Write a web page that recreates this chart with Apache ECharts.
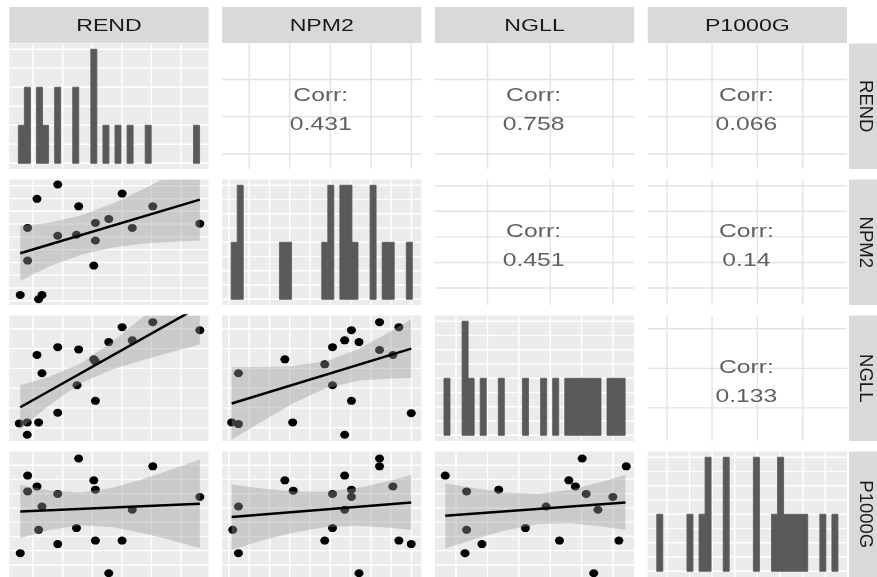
<!DOCTYPE html>
<html><head><meta charset="utf-8">
<script src="https://cdn.jsdelivr.net/npm/echarts@6/dist/echarts.min.js"></script>
<style>html,body{margin:0;padding:0;background:#fff}#c{width:877px;height:577px}</style>
</head><body><div id="c"></div>
<script>
// ---------- DATA (panel units: 0..100 across each variable's scale) ----------
const varNames = ['REND', 'NPM2', 'NGLL', 'P1000G'];
const corrLabels = ['0.431', '0.758', '0.066', '0.451', '0.14', '0.133']; // r1c2 r1c3 r1c4 r2c3 r2c4 r3c4

// grid line positions per variable (all lines / major lines)
const linesREND = [11.9, 26.8, 41.7, 56.5, 71.3, 86.2];
const majorREND = [11.9, 41.7, 71.3];
const linesNPM2 = [3.4, 13.6, 23.8, 33.9, 44.1, 54.3, 64.5, 74.7, 84.8, 95.0];
const majorNPM2 = [13.6, 33.9, 54.3, 74.7, 95.0];
const linesNGLL = [10.6, 26.4, 42.1, 57.9, 73.6, 89.4];
const majorNGLL = [26.4, 57.9, 89.4];
const linesP1000G = [9.6, 21.0, 32.3, 43.7, 55.0, 66.4, 77.8, 89.1];
const majorP1000G = [9.6, 32.3, 55.0, 77.8];

// histogram (30 bins)
const histStart = 4.545, histWidth = 3.0303;
const countsREND   = [1,2,0,2,1,0,2,0,0,2,0,0,3,0,1,0,1,0,1,0,0,1,0,0,0,0,0,0,0,1];
const countsNPM2   = [1,2,0,0,0,0,0,0,1,1,0,0,0,0,0,1,2,0,2,2,1,0,0,2,0,1,1,0,0,1];
const countsNGLL   = [1,0,0,2,1,0,1,0,0,1,0,0,0,1,0,0,1,0,1,0,1,1,1,1,1,1,0,1,1,1];
const countsP1000G = [1,0,0,0,0,1,0,1,2,0,0,2,0,0,0,0,2,0,0,1,2,1,1,1,1,0,0,1,0,1];
const histLinesREND = [0, 0.5, 1, 1.5, 2, 2.5, 3];
const histLinesOther = [0, 0.25, 0.5, 0.75, 1, 1.25, 1.5, 1.75, 2];

// scatter points  [x, y]
const ptsREND_NPM2 = [[5.5,8],[14.7,4.6],[16.4,8],[9.2,35.4],[9.2,61.4],[13.9,84.6],[24.3,96],[24.3,55.2],[33.7,56],[34.8,78.6],[43.2,65.4],[43.2,51.4],[42.4,31.4],[49.9,68.6],[56.6,88.8],[61.7,61.4],[72,78.6],[95.6,64.8]];
const ptsREND_NGLL = [[5.0,14.0],[9.0,14.8],[9.0,5.0],[14.7,14.8],[24.3,22.5],[13.9,68.5],[16.4,54.0],[24.3,74.8],[34.8,73.0],[34.0,44.4],[42.4,65.1],[43.2,32.0],[49.9,78.8],[56.6,90.7],[61.7,80.2],[72.0,94.7],[95.6,88.3],[43.2,63.5]];
const ptsREND_P1000G = [[5.5,19.0],[9.2,80.8],[9.2,68.2],[13.9,72.2],[14.7,37.6],[16.4,56.2],[24.3,66.2],[24.3,26.2],[34.8,94.4],[33.7,39.0],[42.4,77.0],[43.2,69.6],[43.2,29.0],[49.9,3.0],[56.6,29.0],[61.7,53.6],[72.0,88.2],[95.6,63.8]];
const ptsNPM2_NGLL = [[4.8,14.8],[8.2,13.5],[8.2,54.0],[31.5,65.1],[35.4,14.8],[51.5,61.1],[55.4,74.8],[55.4,44.4],[61.5,80.2],[64.9,88.3],[68.7,78.8],[64.9,32.0],[61.5,5.0],[79.0,94.7],[79.0,72.5],[85.7,68.5],[88.7,90.7],[94.9,22.2]];
const ptsNPM2_P1000G = [[5.35,37.6],[8.2,56.2],[8.2,19.0],[31.5,77.0],[35.7,68.8],[51.5,29.0],[55.4,66.2],[55.4,39.0],[61.5,80.8],[61.5,53.6],[64.9,69.6],[64.9,63.8],[68.7,3.0],[79.0,94.4],[79.0,88.2],[85.7,72.2],[88.7,29.0],[94.9,26.2]];
const ptsNGLL_P1000G = [[5.2,80.8],[15.9,68.2],[15.9,37.6],[15.1,19.0],[23.6,26.2],[32.0,69.6],[45.4,39.0],[55.8,56.2],[62.5,29.0],[67.2,77.0],[70.5,72.2],[73.9,94.4],[75.9,66.2],[81.8,53.6],[79.7,3.0],[89.3,63.8],[92.3,29.0],[96.0,88.2]];

// fitted lines [x, y] and confidence bands [x, lower, upper]
const fitREND_NPM2 = [[5.5,41.2],[95.6,84]];
const bandREND_NPM2 = [[5.5,19.4,63.0],[20,30.6,65.6],[36,40.0,71.4],[52,45.8,80.8],[68,49.0,92.8],[84,50.6,106.4],[95.6,51.4,116.6]];
const fitREND_NGLL = [[5.5,26.9],[95.6,107.3]];
const bandREND_NGLL = [[5.5,9.4,44.4],[20,28.5,51.1],[36,46.2,62.0],[52,57.2,79.4],[68,65.0,100.2],[84,72.0,121.8],[95.6,76.9,137.7]];
const fitREND_P1000G = [[5.5,52.2],[95.6,58.4]];
const bandREND_P1000G = [[5.5,30.9,73.5],[20,37.4,69.0],[36,41.2,67.4],[52,39.6,71.2],[68,34.6,78.4],[84,28.1,87.1],[95.6,23.1,93.7]];
const fitNPM2_NGLL = [[4.8,29.9],[94.9,73.6]];
const bandNPM2_NGLL = [[4.8,0.9,58.9],[20,15.6,59.0],[36,30.2,59.8],[52,42.1,63.5],[68,48.0,73.0],[84,49.8,86.8],[94.9,50.1,97.1]];
const fitNPM2_P1000G = [[4.8,47.8],[94.9,59.4]];
const bandNPM2_P1000G = [[4.8,21.8,73.8],[20,29.0,70.6],[36,35.5,68.1],[52,39.8,68.0],[68,40.9,70.9],[84,39.3,76.7],[94.9,37.4,81.4]];
const fitNGLL_P1000G = [[5.2,48.8],[95.6,59.4]];
const bandNGLL_P1000G = [[5.2,22.8,74.8],[20,30.3,70.7],[36,37.5,67.3],[52,42.2,66.4],[68,42.9,69.5],[84,40.2,75.8],[95.6,37.4,81.4]];

// ---------- LAYOUT / STYLE ----------
const COL_LEFT = [9.3, 222.1, 434.9, 647.7], COL_W = 199.3;
const ROW_TOP = [43.5, 179.5, 315.5, 451.5], ROW_H = 125.5;
const STRIP_TOP = 7, STRIP_H = 36;
const FONT = '"Liberation Sans", Arial, sans-serif';

const allLines = [linesREND, linesNPM2, linesNGLL, linesP1000G];
const majLines = [majorREND, majorNPM2, majorNGLL, majorP1000G];
const counts = [countsREND, countsNPM2, countsNGLL, countsP1000G];
const lower = {
  '1_0': [ptsREND_NPM2, fitREND_NPM2, bandREND_NPM2],
  '2_0': [ptsREND_NGLL, fitREND_NGLL, bandREND_NGLL],
  '3_0': [ptsREND_P1000G, fitREND_P1000G, bandREND_P1000G],
  '2_1': [ptsNPM2_NGLL, fitNPM2_NGLL, bandNPM2_NGLL],
  '3_1': [ptsNPM2_P1000G, fitNPM2_P1000G, bandNPM2_P1000G],
  '3_2': [ptsNGLL_P1000G, fitNGLL_P1000G, bandNGLL_P1000G]
};
const upperOrder = ['0_1', '0_2', '0_3', '1_2', '1_3', '2_3'];

const grids = [], xAxes = [], yAxes = [], series = [], graphics = [];

function lineSeries(idx, xl, yl, yMin, yMax, color, width) {
  const data = xl.map(v => [v, 0]).concat(yl.map(v => [v, 1]));
  return {
    type: 'custom', xAxisIndex: idx, yAxisIndex: idx, silent: true, z: 1,
    data: data,
    renderItem: function (params, api) {
      const v = api.value(0), k = api.value(1);
      let p1, p2;
      if (k === 0) { p1 = api.coord([v, yMin]); p2 = api.coord([v, yMax]); }
      else { p1 = api.coord([0, v]); p2 = api.coord([100, v]); }
      return { type: 'line', shape: { x1: p1[0], y1: p1[1], x2: p2[0], y2: p2[1] },
        style: { stroke: color, lineWidth: width } };
    }
  };
}

for (let r = 0; r < 4; r++) {
  for (let c = 0; c < 4; c++) {
    const idx = r * 4 + c;
    const isDiag = r === c, isLower = r > c;
    grids.push({ left: COL_LEFT[c], top: ROW_TOP[r], width: COL_W, height: ROW_H,
      show: true, backgroundColor: (r >= c) ? '#EBEBEB' : '#FFFFFF', borderWidth: 0 });
    let yMin = 0, yMax = 100;
    if (isDiag) { if (r === 0) { yMin = -0.15; yMax = 3.15; } else { yMin = -0.1; yMax = 2.1; } }
    xAxes.push({ type: 'value', gridIndex: idx, min: 0, max: 100, show: false });
    yAxes.push({ type: 'value', gridIndex: idx, min: yMin, max: yMax, show: false });

    if (isDiag) {
      series.push(lineSeries(idx, allLines[c], r === 0 ? histLinesREND : histLinesOther, yMin, yMax, '#FFFFFF', 1.4));
      const bins = [];
      counts[c].forEach((n, k) => { if (n > 0) bins.push([histStart + k * histWidth, histStart + (k + 1) * histWidth, n]); });
      series.push({
        type: 'custom', xAxisIndex: idx, yAxisIndex: idx, silent: true, z: 2, data: bins,
        encode: { x: [0, 1], y: 2 },
        renderItem: function (params, api) {
          const a = api.coord([api.value(0), 0]);
          const b = api.coord([api.value(1), api.value(2)]);
          return { type: 'rect', shape: { x: a[0], y: b[1], width: b[0] - a[0], height: a[1] - b[1] },
            style: { fill: '#595959', stroke: '#595959', lineWidth: 0.8 } };
        }
      });
    } else if (isLower) {
      const [pts, fit, band] = lower[r + '_' + c];
      series.push(lineSeries(idx, allLines[c], allLines[r], 0, 100, '#FFFFFF', 1.4));
      series.push({ type: 'scatter', xAxisIndex: idx, yAxisIndex: idx, silent: true, z: 2,
        data: pts, symbolSize: [9, 8], itemStyle: { color: '#000000', opacity: 1 } });
      series.push({
        type: 'custom', xAxisIndex: idx, yAxisIndex: idx, silent: true, z: 3, clip: true,
        data: band, encode: { x: 0, y: [1, 2] },
        renderItem: function (params, api) {
          if (params.dataIndex !== 0) return null;
          const pts2 = band.map(b => api.coord([b[0], b[2]]))
            .concat(band.slice().reverse().map(b => api.coord([b[0], b[1]])));
          const cs = params.coordSys;
          return { type: 'polygon', shape: { points: pts2 },
            style: { fill: 'rgba(153,153,153,0.4)' },
            clipPath: { type: 'rect', shape: { x: cs.x, y: cs.y, width: cs.width, height: cs.height } } };
        }
      });
      series.push({ type: 'line', xAxisIndex: idx, yAxisIndex: idx, silent: true, z: 4, clip: true,
        data: fit, showSymbol: false, symbol: 'none', lineStyle: { color: '#000000', width: 2.5 } });
    } else {
      const label = corrLabels[upperOrder.indexOf(r + '_' + c)];
      series.push(lineSeries(idx, majLines[c], majLines[r], 0, 100, '#E3E3E3', 1.4));
      series.push({
        type: 'custom', xAxisIndex: idx, yAxisIndex: idx, silent: true, z: 5,
        data: [[49.5, 58.7, 0], [49.5, 35.1, 1]],
        renderItem: function (params, api) {
          const p = api.coord([api.value(0), api.value(1)]);
          return { type: 'text', x: p[0], y: p[1], scaleX: 1.3,
            style: { text: api.value(2) === 0 ? 'Corr:' : label, fill: '#616161',
              font: '19px ' + FONT, align: 'center', verticalAlign: 'middle',
              textAlign: 'center', textVerticalAlign: 'middle' } };
        }
      });
    }
  }
}

// strips
for (let c = 0; c < 4; c++) {
  graphics.push({ type: 'rect', silent: true, shape: { x: COL_LEFT[c], y: STRIP_TOP, width: COL_W, height: STRIP_H },
    style: { fill: '#D9D9D9' } });
  graphics.push({ type: 'text', silent: true, x: COL_LEFT[c] + COL_W / 2, y: STRIP_TOP + STRIP_H / 2 + 1, scaleX: 1.36,
    style: { text: varNames[c], fill: '#1A1A1A', font: '17px ' + FONT, align: 'center', verticalAlign: 'middle',
      textAlign: 'center', textVerticalAlign: 'middle' } });
}
for (let r = 0; r < 4; r++) {
  graphics.push({ type: 'rect', silent: true, shape: { x: 849, y: ROW_TOP[r], width: 40, height: ROW_H },
    style: { fill: '#D9D9D9' } });
  graphics.push({ type: 'text', silent: true, x: 865, y: ROW_TOP[r] + ROW_H / 2, rotation: -Math.PI / 2,
    style: { text: varNames[r], fill: '#1A1A1A', font: '18.5px ' + FONT, align: 'center', verticalAlign: 'middle',
      textAlign: 'center', textVerticalAlign: 'middle' } });
}

const chart = echarts.init(document.getElementById('c'), null, { renderer: 'canvas' });
chart.setOption({
  animation: false,
  backgroundColor: '#FFFFFF',
  grid: grids, xAxis: xAxes, yAxis: yAxes, series: series, graphic: graphics
});
</script>
</body></html>
